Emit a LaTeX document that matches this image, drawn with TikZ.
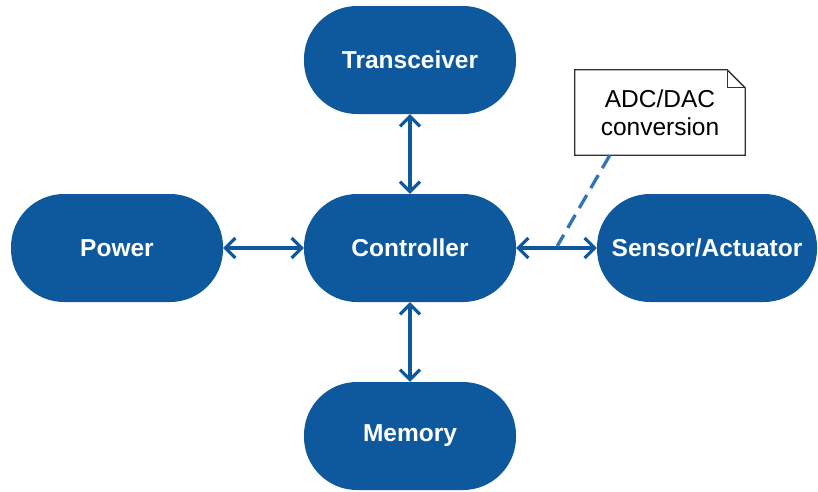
\documentclass[tikz,border=0pt]{standalone}
\usepackage{fontspec}
\setmainfont{Liberation Sans}
\usetikzlibrary{arrows.meta,calc}
\definecolor{unitblue}{RGB}{14,89,158}
\definecolor{dashblue}{RGB}{48,118,182}
\definecolor{noteline}{RGB}{50,50,50}
\begin{document}
\begin{tikzpicture}[x=1pt,y=-1pt,
  unit/.style={fill=unitblue, text=white,
    font=\fontsize{24.5}{28}\selectfont\bfseries,
    rounded corners=53pt, minimum width=212pt, minimum height=108pt, inner sep=0pt},
  barb/.tip={Straight Barb[length=10pt,width=20pt,line width=3.2pt]},
  link/.style={draw=unitblue, line width=3.2pt, barb-barb},
  notebox/.style={minimum width=170pt, minimum height=85pt, inner sep=0pt, align=center,
    font=\fontsize{24.5}{28}\selectfont}
]
\useasboundingbox (0,0) rectangle (818,491);

% functional blocks
\node[unit] (trx)  at (410,60)  {Transceiver};
\node[unit] (ctrl) at (410,248) {Controller};
\node[unit] (pwr)  at (117,248) {Power};
\node[unit] (mem)  at (410,436) {\raisebox{-2pt}{Memory}};
\node[unit, minimum width=220pt] (sens) at (707,248) {Sensor/Actuator};

% bidirectional links
\draw[link] (pwr.east) -- (ctrl.west);
\draw[link] (trx.south) -- (ctrl.north);
\draw[link] (ctrl.south) -- (mem.north);
\draw[link] (ctrl.east) -- (sens.west);

% annotation note with folded corner
\node[notebox] (note) at (660,112.5) {};
\fill[white] (note.north west) -- ($(note.north east)+(-18,0)$) -- ($(note.north east)+(0,18)$)
  -- (note.south east) -- (note.south west) -- cycle;
\draw[noteline, line width=1.3pt, line join=miter]
  (note.north west) -- ($(note.north east)+(-18,0)$) -- ($(note.north east)+(0,18)$)
  -- (note.south east) -- (note.south west) -- cycle;
\draw[noteline, line width=1.3pt]
  ($(note.north east)+(-18,0)$) -- ($(note.north east)+(-18,18)$) -- ($(note.north east)+(0,18)$);
\node[notebox] at (note.center) {ADC/DAC\\conversion};

% dashed leader from the note to the sensor link
\coordinate (tap) at ($(ctrl.east)!0.51!(sens.west)+(0,-2)$);
\draw[dashblue, line width=3.3pt, dash pattern=on 15pt off 8pt]
  ($(note.south west)+(35,0)$) -- (tap);
\end{tikzpicture}
\end{document}
